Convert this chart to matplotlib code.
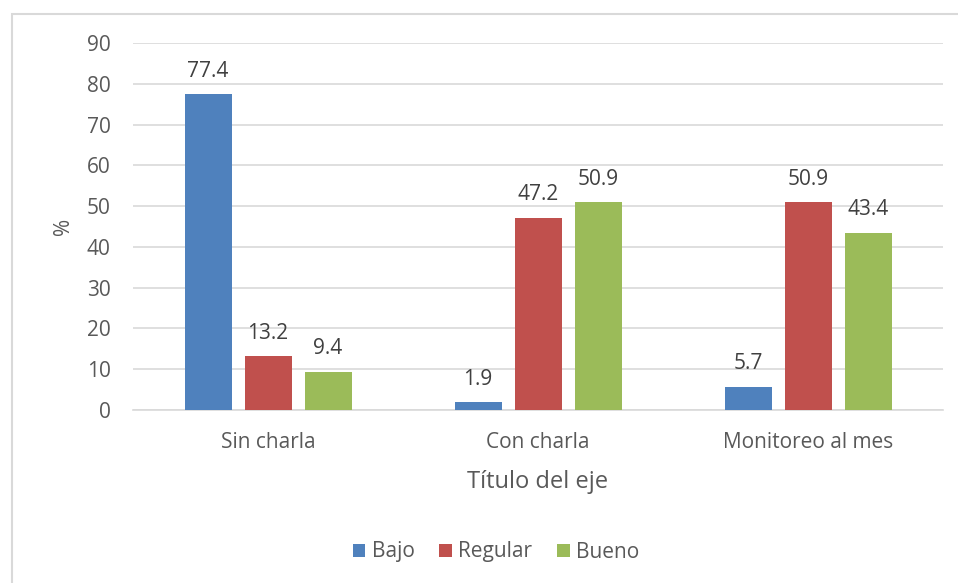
import matplotlib
matplotlib.use("Agg")
import matplotlib.pyplot as plt
import numpy as np
from matplotlib.patches import Rectangle

categories = ["Sin charla", "Con charla", "Monitoreo al mes"]
series = ["Bajo", "Regular", "Bueno"]
bajo = [77.4, 1.9, 5.7]
regular = [13.2, 47.2, 50.9]
bueno = [9.4, 50.9, 43.4]
colors = ["#4F81BD", "#C0504D", "#9BBB59"]
yticks = [0, 10, 20, 30, 40, 50, 60, 70, 80, 90]

plt.rcParams['font.family'] = ['Open Sans', 'DejaVu Sans']

W, H = 958, 583
fig = plt.figure(figsize=(W/100, H/100), dpi=100)
ax = fig.add_axes([133/W, 1-410/H, (943-133)/W, (410-43)/H])

fig.patches.append(Rectangle((12/W, -0.1), 1.2, 1.1 - 14/H, transform=fig.transFigure,
                             fill=False, edgecolor="#D9D9D9", linewidth=1.5))

fs = 15
x = np.arange(len(categories))
step = 60/270
width = 47/270
for i, (name, vals) in enumerate(zip(series, [bajo, regular, bueno])):
    pos = x + (i-1)*step
    ax.bar(pos, vals, width=width, color=colors[i], label=name, zorder=3)
    for p, v in zip(pos, vals):
        ax.text(p, v + 3.1, f"{v:.1f}", ha="center", va="bottom", fontsize=fs, color="#404040")

ax.set_xlim(-0.5, 2.5)
ax.set_ylim(0, 90)
ax.set_yticks(yticks)
ax.set_xticks(x)
ax.set_xticklabels(categories)
ax.yaxis.grid(True, color="#D9D9D9", linewidth=1.2, zorder=0)
for s in ["top", "right", "left"]:
    ax.spines[s].set_visible(False)
ax.spines["bottom"].set_color("#D9D9D9")
ax.spines["bottom"].set_linewidth(1.2)
ax.tick_params(axis="both", length=0, labelsize=fs, labelcolor="#595959")
ax.tick_params(axis="y", pad=16)
ax.tick_params(axis="x", pad=16)
ax.set_xlabel("Título del eje", fontsize=17, color="#595959", labelpad=12)
ax.set_ylabel("%", fontsize=fs, color="#595959", labelpad=9)

fig.legend(loc="center", bbox_to_anchor=(496/W, 1-552/H), ncol=3, frameon=False,
           fontsize=fs, labelcolor="#595959", handlelength=0.6, handleheight=0.6,
           handletextpad=0.3, columnspacing=1.2)

fig.savefig("out.png", dpi=100)
